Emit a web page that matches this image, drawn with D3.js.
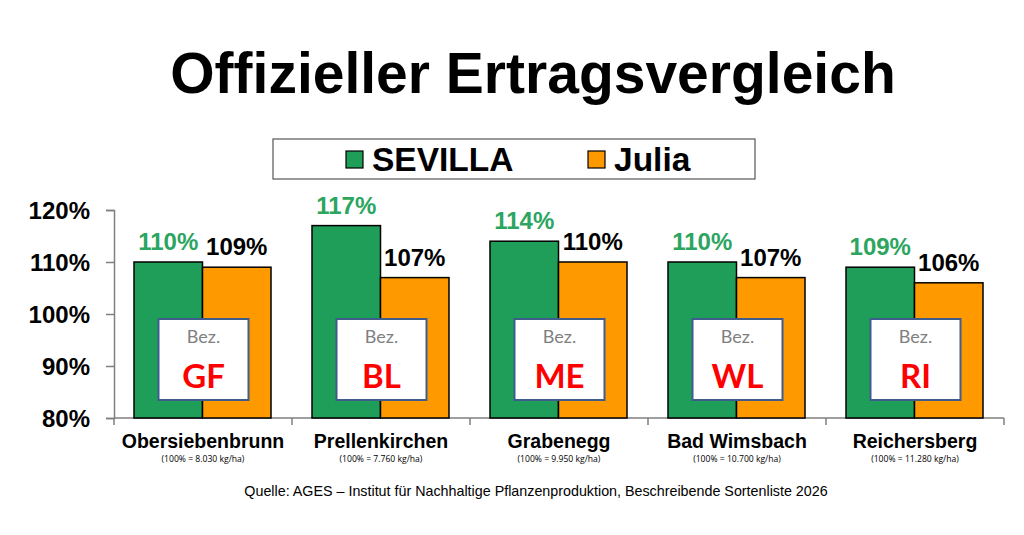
<!DOCTYPE html>
<html>
<head>
<meta charset="utf-8">
<script src="https://cdn.jsdelivr.net/npm/d3@7"></script>
<style>
  body { margin: 0; background: #fff; }
  svg { display: block; font-family: "Liberation Sans", Arial, sans-serif; }
</style>
</head>
<body>
<div id="chart"></div>
<script>
// data
let locations = ['Obersiebenbrunn', 'Prellenkirchen', 'Grabenegg', 'Bad Wimsbach', 'Reichersberg']
let baseYields = ['(100% = 8.030 kg/ha)', '(100% = 7.760 kg/ha)', '(100% = 9.950 kg/ha)', '(100% = 10.700 kg/ha)', '(100% = 11.280 kg/ha)']
let districts = ['GF', 'BL', 'ME', 'WL', 'RI']
let sevilla = [110, 117, 114, 110, 109]
let julia = [109, 107, 110, 107, 106]
let series = ['SEVILLA', 'Julia']
let yTicks = [80, 90, 100, 110, 120]

let width = 1024
let height = 535
let margin = {top: 210, right: 20, bottom: 117, left: 114}

let green = '#1e9e58'
let greenText = '#2ba55f'
let orange = '#ff9900'

let svg = d3.select('div#chart')
  .append('svg')
    .attr('width', width)
    .attr('height', height)

// title
svg.append('text')
  .attr('x', 533)
  .attr('y', 93)
  .attr('text-anchor', 'middle')
  .attr('font-size', 57)
  .attr('font-weight', 'bold')
  .text('Offizieller Ertragsvergleich')

// legend
let legend = svg.append('g')
legend.append('rect')
  .attr('x', 273).attr('y', 139)
  .attr('width', 482).attr('height', 40)
  .attr('fill', 'white')
  .attr('stroke', '#555').attr('stroke-width', 1.2)

let legendX = [346, 588]
series.forEach((s, i) => {
  legend.append('rect')
    .attr('x', legendX[i]).attr('y', 151)
    .attr('width', 17).attr('height', 17)
    .attr('fill', i === 0 ? green : orange)
    .attr('stroke', 'black').attr('stroke-width', 1.2)
  legend.append('text')
    .attr('x', legendX[i] + 26).attr('y', 171)
    .attr('font-size', 33.5)
    .attr('font-weight', 'bold')
    .text(s)
})

// scales
let x0 = d3.scaleBand()
  .domain(locations)
  .range([margin.left, width - margin.right])
  .paddingInner(0)
  .paddingOuter(0)

let x1 = d3.scaleBand()
  .domain(series)
  .range([20, x0.bandwidth() - 21])

let y = d3.scaleLinear()
  .domain([80, 120])
  .range([height - margin.bottom, margin.top])

let rows = locations.map((loc, i) => ({
  loc: loc, base: baseYields[i], district: districts[i],
  values: [{s: 'SEVILLA', v: sevilla[i]}, {s: 'Julia', v: julia[i]}]
}))

// y axis
let yAxis = svg.append('g')
  .attr('transform', `translate(${margin.left},0)`)
  .call(d3.axisLeft(y).tickValues(yTicks).tickSize(8).tickFormat(d => d + '%'))
yAxis.select('.domain').attr('stroke', '#7f7f7f').attr('stroke-width', 1.5)
yAxis.selectAll('.tick line').attr('stroke', '#7f7f7f').attr('stroke-width', 1.5)
yAxis.selectAll('.tick text')
  .attr('font-size', 24)
  .attr('font-weight', 'bold')
  .attr('font-family', '"Liberation Sans", Arial, sans-serif')
  .attr('fill', 'black')
  .attr('x', -24)
  .attr('dy', '0.36em')

// x axis
let xAxisY = height - margin.bottom
let xAxis = svg.append('g')
  .attr('transform', `translate(0,${xAxisY})`)
xAxis.append('line')
  .attr('x1', x0.range()[0]).attr('x2', x0.range()[1])
  .attr('stroke', '#7f7f7f').attr('stroke-width', 1.5)
let boundaries = locations.map(d => x0(d)).concat([x0.range()[1]])
xAxis.selectAll('line.tick')
  .data(boundaries)
  .enter().append('line')
  .attr('class', 'tick')
  .attr('x1', d => d).attr('x2', d => d)
  .attr('y1', 0).attr('y2', 7)
  .attr('stroke', '#7f7f7f').attr('stroke-width', 1.5)

// bars
let groups = svg.selectAll('g.cat')
  .data(rows)
  .enter().append('g')
  .attr('class', 'cat')
  .attr('transform', d => `translate(${x0(d.loc)},0)`)

groups.selectAll('rect.bar')
  .data(d => d.values)
  .enter().append('rect')
  .attr('class', 'bar')
  .attr('x', d => x1(d.s))
  .attr('y', d => y(d.v))
  .attr('width', x1.bandwidth())
  .attr('height', d => y(80) - y(d.v))
  .attr('fill', d => d.s === 'SEVILLA' ? green : orange)
  .attr('stroke', 'black')
  .attr('stroke-width', 1.5)

groups.selectAll('text.val')
  .data(d => d.values)
  .enter().append('text')
  .attr('class', 'val')
  .attr('x', d => x1(d.s) + x1.bandwidth() / 2)
  .attr('y', d => y(d.v) - 12)
  .attr('text-anchor', 'middle')
  .attr('font-size', 24)
  .attr('font-weight', 'bold')
  .attr('fill', d => d.s === 'SEVILLA' ? greenText : 'black')
  .text(d => d.v + '%')

// district boxes
let boxW = 90, boxH = 81
let mid = x1('Julia')
groups.append('rect')
  .attr('x', mid - boxW / 2 + 1)
  .attr('y', 319)
  .attr('width', boxW).attr('height', boxH)
  .attr('fill', 'white')
  .attr('stroke', '#3f5d8c').attr('stroke-width', 2)

groups.append('text')
  .attr('x', mid + 1).attr('y', 343)
  .attr('text-anchor', 'middle')
  .attr('font-family', 'Lato, "Open Sans", sans-serif')
  .attr('font-size', 18)
  .attr('fill', '#7f7f7f')
  .text('Bez.')

groups.append('text')
  .attr('x', mid + 1).attr('y', 388)
  .attr('text-anchor', 'middle')
  .attr('font-family', 'Lato, "Open Sans", sans-serif')
  .attr('font-size', 33)
  .attr('font-weight', 'bold')
  .attr('fill', '#ff0000')
  .text(d => d.district)

// category labels
groups.append('text')
  .attr('x', x0.bandwidth() / 2).attr('y', 448)
  .attr('text-anchor', 'middle')
  .attr('font-size', 19.5)
  .attr('font-weight', 'bold')
  .text(d => d.loc)

groups.append('text')
  .attr('x', x0.bandwidth() / 2).attr('y', 462)
  .attr('text-anchor', 'middle')
  .attr('font-family', '"Open Sans", sans-serif')
  .attr('font-size', 8.6)
  .text(d => d.base)

// source
svg.append('text')
  .attr('x', 536).attr('y', 496)
  .attr('text-anchor', 'middle')
  .attr('font-size', 14.3)
  .text('Quelle: AGES – Institut für Nachhaltige Pflanzenproduktion, Beschreibende Sortenliste 2026')
</script>
</body>
</html>
